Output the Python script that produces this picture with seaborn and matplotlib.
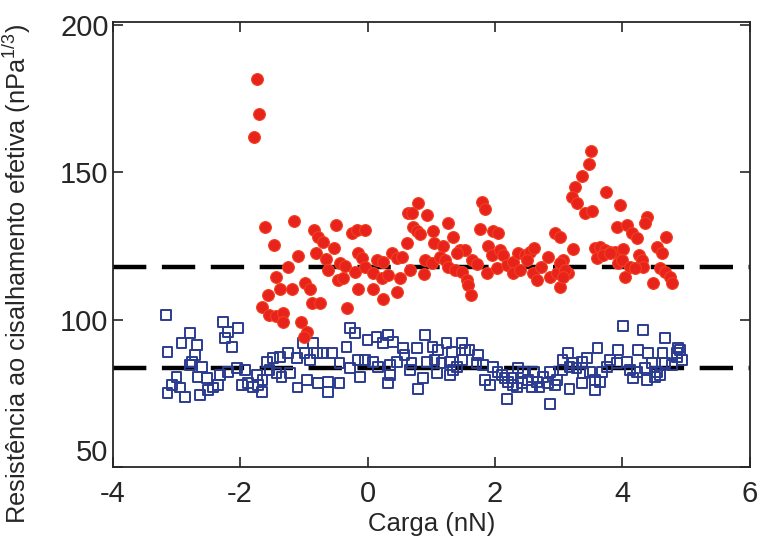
import matplotlib
matplotlib.use("Agg")
import matplotlib.pyplot as plt
import seaborn as sns
import pandas as pd

sns.set_style("ticks")
plt.rcParams["font.family"] = ["Liberation Sans", "DejaVu Sans"]
plt.rcParams["mathtext.default"] = "regular"
plt.rcParams["axes.unicode_minus"] = False

# red circles (upper set)
red_x = [-1.74, -1.71, -1.79, -1.61, -1.16, -1.47, -1.10, -1.25, -1.43, -1.38, -1.19, -1.57,
         -1.65, -1.54, -1.43, -1.33, -1.33, -1.05, -0.95, -1.00, -0.99, -0.91, -0.88, -0.75,
         -0.84, -0.78, -0.70, -0.81, -0.66, -0.62, -0.53, -0.50, -0.44, -0.36, -0.47, -0.39,
         -0.33, -0.25, -0.17, -0.04, -0.15, -0.08, -0.19, -0.15, 0.08, 0.24, 0.46, -0.04,
         0.14, 0.24, 0.38, 0.46, 0.54, 0.08, 0.22, 0.32, 0.51, 0.62, 0.63,
         0.79, 0.69, 0.93, 0.71, 0.77, 0.82, 1.02, 1.27, 1.05, 1.18, 1.34, 1.45, 1.53, 1.40,
         0.90, 1.01, 1.13, 1.21, 1.26, 0.66, 0.88, 1.37, 1.48, 1.56, 1.57, 1.62, 1.64, 1.71,
         1.79, 1.84, 1.76, 1.97, 2.04, 1.89, 1.95, 2.08, 2.12, 1.87, 2.03, 2.19, 2.28, 2.36,
         2.47, 2.55, 2.62, 2.28, 2.39, 2.50, 2.59, 2.66, 2.73, 2.83, 2.86, 2.97, 3.06, 3.14,
         2.94, 3.02, 3.22,
         3.50, 3.47, 3.36, 3.25, 3.21, 3.28, 3.74, 3.97, 3.41, 3.52, 3.02, 3.10, 4.38, 4.35,
         3.91, 4.08, 4.15, 4.23, 3.57, 3.65, 3.72, 3.80, 3.88, 4.01, 3.60, 3.69, 3.80, 3.93,
         3.99, 4.26, 4.30, 4.32, 4.12, 4.19, 4.04, 4.54, 4.68, 4.62, 4.59, 4.67, 4.74, 4.78,
         4.48, 3.02, 3.06]
red_y = [181.7, 169.8, 162.0, 131.5, 133.6, 125.4, 121.7, 118.0, 114.6, 110.5, 110.5, 108.5,
         104.4, 101.7, 101.4, 102.4, 99.3, 99.3, 95.9, 94.2, 112.5, 110.5, 105.8, 105.8,
         130.5, 128.1, 126.4, 122.7, 120.7, 117.0, 124.4, 132.2, 119.3, 118.3, 113.6, 114.2,
         104.0, 129.5, 130.5, 130.5, 122.7, 121.0, 116.3, 110.5, 110.5, 107.1, 109.5, 118.0,
         120.3, 119.7, 122.7, 121.0, 121.4, 115.9, 114.2, 115.3, 114.2, 126.1, 136.3,
         139.7, 136.3, 135.6, 131.5, 130.2, 129.2, 130.2, 132.9, 126.1, 125.1, 128.1, 123.7,
         123.7, 122.7, 120.3, 119.3, 121.4, 120.3, 118.0, 117.0, 115.6, 117.0, 116.3, 113.6,
         111.9, 108.5, 120.3, 119.0, 140.0, 137.6, 130.8, 130.2, 129.5, 125.1, 122.0, 123.7,
         122.0, 115.9, 117.6, 118.6, 119.7, 122.7, 122.0, 123.1, 124.4, 115.9, 117.0, 120.3,
         115.9, 113.6, 118.0, 121.4, 114.6, 115.9, 120.3, 115.9, 129.5, 128.1, 124.1,
         157.3, 152.9, 148.8, 145.1, 141.7, 139.7, 143.4, 139.0, 136.3, 137.0, 119.3, 117.0,
         134.9, 132.9, 131.5, 132.2, 129.5, 127.8, 124.4, 124.7, 123.7, 123.1, 123.1, 124.1,
         121.0, 122.0, 122.7, 119.3, 120.3, 122.0, 120.3, 118.0, 118.0, 117.6, 114.6, 124.7,
         128.1, 122.7, 117.6, 116.3, 114.6, 112.5, 112.5, 111.2, 114.6]

# blue open squares (lower set)
blue_x = [-3.17, -2.79, -2.92, -2.68, -3.14, -2.71, -2.76, -2.27, -2.19, -2.04, -2.24, -2.13,
          -3.00, -3.07, -2.95, -2.87, -3.14, -2.67, -2.52, -2.63, -2.51, -2.43, -2.35, -2.79,
          -2.60, -2.32, -2.19, -2.05, -1.93, -1.97, -1.88, -1.80, -1.72, -1.66, -1.74, -1.65,
          -1.54, -1.43, -1.35, -1.22, -1.58, -1.49, -1.38, -1.25, -1.11, -0.99, -0.91, -0.80,
          -1.02, -0.86, -1.10, -0.95, -0.78, -0.62, -0.44, -0.62, -0.70, -0.56, -0.44, -0.33,
          -0.28, -0.20, -0.12, -0.15, -0.04, 0.08, 0.16, 0.00, 0.14, 0.24, 0.32, 0.40,
          0.35, 0.46, 0.55, 0.58, 0.69, 0.77, 0.66, 0.32, -0.28, 0.35,
          0.87, 0.79, 0.90, 1.02, 1.10, 1.24, 1.32, 1.48, 1.53, 1.60, 0.93, 1.05, 1.16, 1.29,
          1.40, 1.49, 1.09, 1.29, 1.34, 1.73, 1.71, 1.81, 1.84, 1.92, 1.97, 2.04, 2.11, 2.15,
          2.20, 2.26, 2.28, 2.34, 2.42, 2.36, 2.19, 2.44, 2.52, 2.58, 2.62, 2.66,
          4.01, 4.32, 4.67, 3.61, 3.93, 4.24, 4.40, 4.63, 4.87, 3.14, 3.06, 3.22, 3.36, 3.44,
          2.75, 2.86, 2.97, 3.06, 3.17, 3.28, 3.38, 3.49, 3.57, 3.65, 3.68, 3.76, 2.70, 2.83,
          2.94, 2.86, 3.17, 3.36, 3.57, 3.80, 3.91, 4.07, 4.12, 4.16, 4.23, 4.35, 4.46, 4.54,
          4.59, 4.67, 4.78, 4.86, 4.93, 4.86, 4.90, 4.38, 4.51]
blue_y = [101.7, 95.6, 92.2, 91.5, 89.2, 88.1, 85.8, 99.3, 95.9, 97.3, 93.9, 90.8,
          80.7, 78.0, 77.0, 73.9, 75.3, 80.7, 80.3, 74.6, 76.3, 77.0, 78.0, 84.7,
          84.1, 81.4, 82.4, 83.7, 83.1, 78.0, 78.6, 77.3, 78.0, 75.6, 81.4, 79.7,
          83.1, 82.0, 80.7, 82.0, 85.8, 87.1, 87.5, 88.8, 87.1, 88.8, 86.4, 88.8,
          92.2, 92.2, 77.0, 79.7, 78.6, 79.0, 78.6, 75.6, 88.8, 88.8, 85.4, 90.8,
          97.3, 95.6, 80.7, 86.4, 86.4, 85.8, 84.1, 93.2, 94.2, 92.2, 94.9, 92.5,
          81.4, 85.8, 90.5, 88.1, 85.4, 90.5, 83.1, 78.6, 83.7, 84.7,
          80.3, 76.6, 94.9, 90.8, 89.8, 92.2, 89.2, 92.2, 89.8, 89.8, 85.8, 86.4, 85.4, 85.8,
          84.1, 86.4, 82.0, 81.4, 83.1, 88.1, 85.4, 84.7, 79.7, 78.0, 84.1, 82.4, 81.4, 80.3,
          79.0, 80.3, 78.0, 77.0, 78.6, 83.7, 73.2, 82.4, 79.7, 77.3, 82.4, 79.0,
          98.0, 96.6, 93.9, 90.5, 89.8, 89.8, 88.8, 88.8, 90.5, 88.8, 86.4, 85.4, 85.8, 87.1,
          80.7, 82.4, 79.7, 83.1, 84.1, 83.7, 82.0, 82.4, 79.7, 79.0, 82.4, 84.1, 77.0, 78.6,
          78.0, 71.5, 76.6, 78.6, 76.3, 86.4, 85.4, 85.8, 83.1, 80.3, 82.4, 83.7, 85.4, 82.4,
          81.4, 85.4, 84.7, 87.5, 86.4, 88.8, 89.8, 79.7, 80.7]

# mean levels (dashed lines)
levels = [118.0, 83.8]

red = pd.DataFrame({"carga": red_x, "tau": red_y})
blue = pd.DataFrame({"carga": blue_x, "tau": blue_y})

fig = plt.figure(figsize=(7.62, 5.37), dpi=100)
ax = fig.add_axes([0.148, 0.130, 0.836, 0.829])

for lv in levels:
    ax.axhline(lv, color="black", lw=3.2, dashes=(7.5, 3.5), zorder=1)

sns.scatterplot(x="carga", y="tau", data=blue, marker="s", s=50,
                facecolor="none", edgecolor="#2b3b8f", linewidth=1.4, ax=ax, zorder=2)
sns.scatterplot(x="carga", y="tau", data=red, marker="o", s=72,
                color="#e8231b", edgecolor="#f2401f", linewidth=0.8, ax=ax, zorder=3)

ax.set_xlim(-4, 6)
ax.set_ylim(50, 201)
ax.set_xticks([-4, -2, 0, 2, 4, 6])
ax.set_yticks([50, 100, 150, 200])
ax.tick_params(direction="in", length=7, width=1.2, labelsize=21,
               top=True, right=True, pad=9)
ax.tick_params(axis="y", pad=3)
for sp in ax.spines.values():
    sp.set_linewidth(1.3)
ax.yaxis.get_major_ticks()[0].label1.set_verticalalignment("bottom")

ax.set_xlabel("Carga (nN)", fontsize=18.5, labelpad=3)
ax.set_ylabel("Resistência ao cisalhamento efetiva (nPa$^{1/3}$)", fontsize=18.3)
ax.yaxis.set_label_coords(-0.126, 0.435)

fig.savefig("out.png", dpi=100)
